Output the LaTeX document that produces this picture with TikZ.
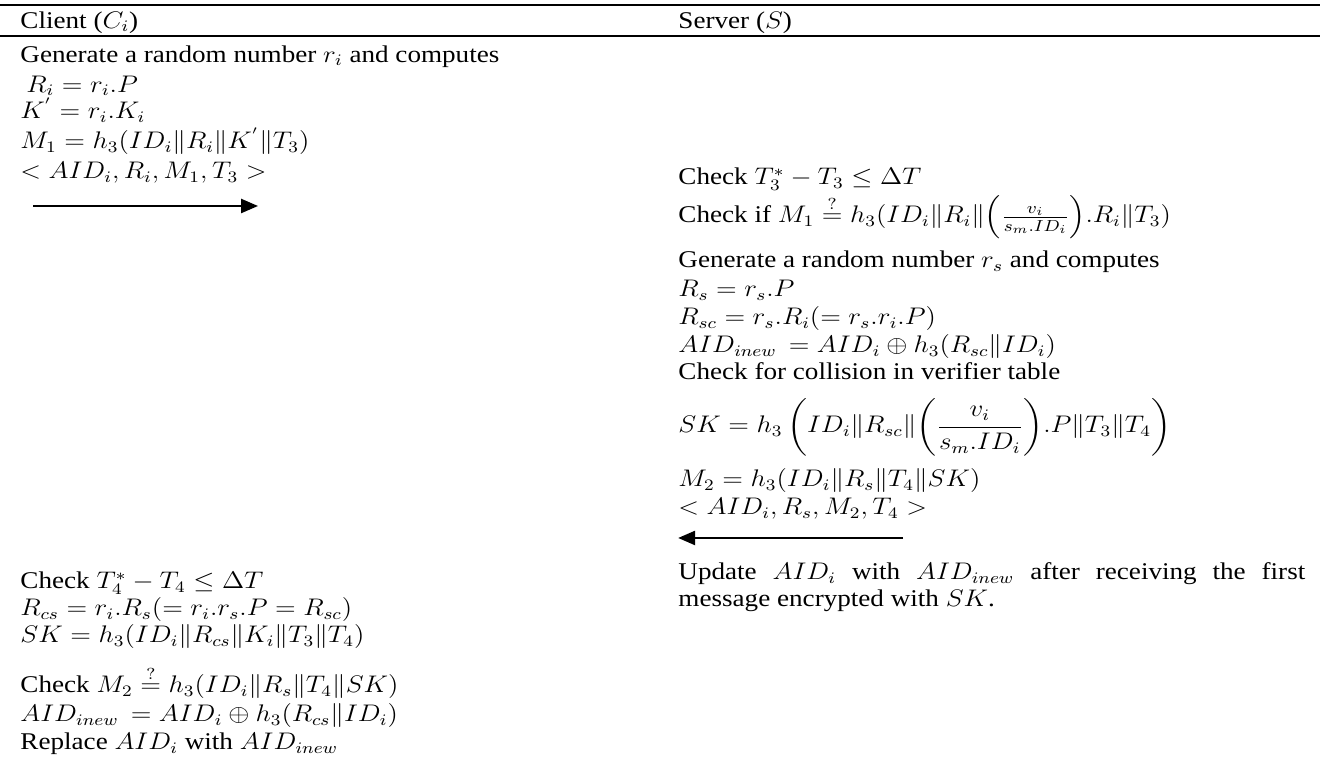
\documentclass[tikz,border=0pt]{standalone}
\usepackage{amsmath}
\usepackage{fontspec}
\setmainfont{Liberation Serif}
\usetikzlibrary{arrows.meta}
\tikzset{
  txt/.style={anchor=base west,inner sep=0pt,transform shape,
    font=\fontsize{12}{14}\selectfont},
  hrule/.style={line width=0.8pt},
  msg/.style={-{Triangle[length=8.5pt,width=7pt]},line width=1.2pt}
}
\newcommand{\cat}{\|}

\begin{document}
\begin{tikzpicture}[x=0.4425pt,y=-0.5pt,xscale=1.13]
  \useasboundingbox (0,0) rectangle (1324,762);

  % header rules
  \coordinate (topL) at (0,5);    \coordinate (topR) at (1320,5);
  \coordinate (midL) at (0,36);   \coordinate (midR) at (1320,36);
  \draw[hrule] (topL) -- (topR);
  \draw[hrule] (midL) -- (midR);
  \node[txt] (client) at (20,28) {Client ($C_i$)};
  \node[txt] (server) at (678,28) {Server ($S$)};

  % client, first step
  \node[txt] (cgen) at (20,62) {Generate a random number $r_i$ and computes};
  \node[txt] (cRi) at (26,92) {$R_i = r_i.P$};
  \node[txt] (cK) at (20,119) {$K^{'} = r_i.K_i$};
  \node[txt] (cM1) at (20,149) {$M_1 = h_3(ID_i\cat R_i\cat K^{'}\cat T_3)$};
  \node[txt] (cmsg) at (20,179) {$< AID_i,R_i,M_1,T_3 >$};
  \coordinate (m1from) at (33,206);
  \coordinate (m1to) at (258,206);
  \draw[msg] (m1from) -- (m1to);

  % server
  \node[txt] (sT3) at (678,185) {Check $T_3^{*} - T_3 \leq \Delta T$};
  \node[txt] (sM1) at (678,223) {Check if $M_1 \overset{?}{=} h_3(ID_i\cat R_i\cat \Bigl(\frac{v_i}{s_m.ID_i}\Bigr).R_i\cat T_3)$};
  \node[txt] (sgen) at (678,268) {Generate a random number $r_s$ and computes};
  \node[txt] (sRs) at (678,297) {$R_s = r_s.P$};
  \node[txt] (sRsc) at (678,325) {$R_{sc} = r_s.R_i(= r_s.r_i.P)$};
  \node[txt] (sAID) at (678,353) {$AID_{inew}\, = AID_i \oplus h_3(R_{sc}\cat ID_i)$};
  \node[txt] (scoll) at (678,380) {Check for collision in verifier table};
  \node[txt] (sSK) at (678,433) {$SK = h_3\,\biggl(ID_i\cat R_{sc}\cat \biggl(\dfrac{v_i}{s_m.ID_i}\biggr).P\cat T_3\cat T_4\biggr)$};
  \node[txt] (sM2) at (678,487) {$M_2 = h_3(ID_i\cat R_s\cat T_4\cat SK)$};
  \node[txt] (smsg) at (678,515) {$< AID_i,R_s,M_2,T_4 >$};
  \coordinate (m2from) at (903,538);
  \coordinate (m2to) at (678,538);
  \draw[msg] (m2from) -- (m2to);
  \node[txt] (supd) at (678,580) {\makebox[277.4pt][s]{Update $AID_i$ with $AID_{inew}$ after receiving the first}};
  \node[txt] (supd2) at (678,607) {message encrypted with $SK$.};

  % client, second step
  \node[txt] (cT4) at (20,589) {Check $T_4^{*} - T_4 \leq \Delta T$};
  \node[txt] (cRcs) at (20,616) {$R_{cs} = r_i.R_s(= r_i.r_s.P = R_{sc})$};
  \node[txt] (cSK) at (20,643) {$SK = h_3(ID_i\cat R_{cs}\cat K_i\cat T_3\cat T_4)$};
  \node[txt] (cM2) at (20,693) {Check $M_2 \overset{?}{=} h_3(ID_i\cat R_s\cat T_4\cat SK)$};
  \node[txt] (cAID) at (20,722) {$AID_{inew}\, = AID_i \oplus h_3(R_{cs}\cat ID_i)$};
  \node[txt] (crep) at (20,750) {Replace $AID_i$ with $AID_{inew}$};
\end{tikzpicture}
\end{document}
